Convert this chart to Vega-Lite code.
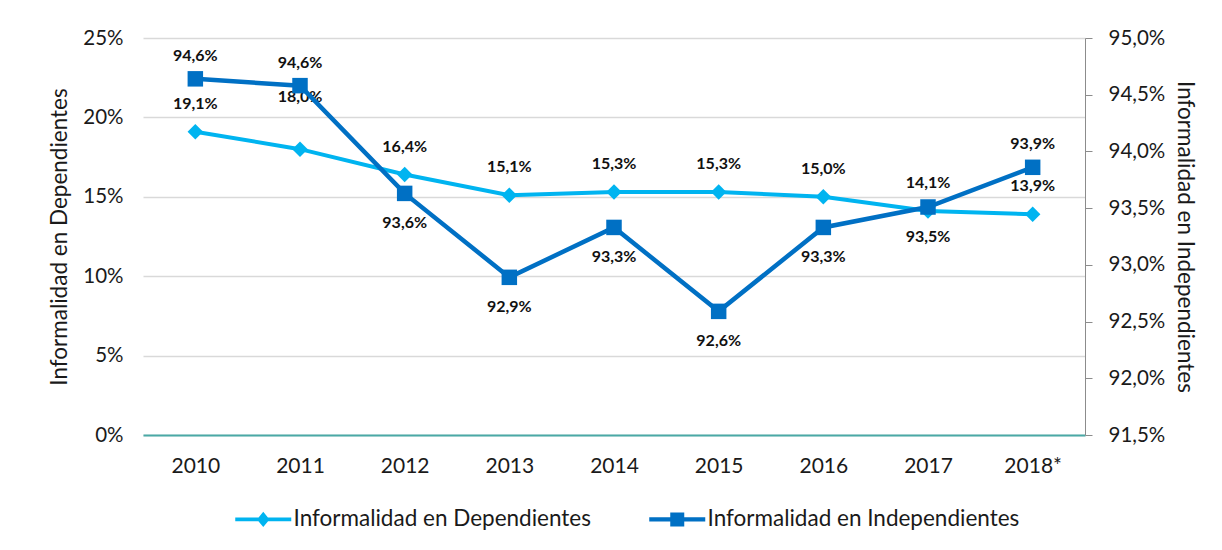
{
  "$schema": "https://vega.github.io/schema/vega-lite/v6.json",
  "autosize": {"type": "none"},
  "width": 942,
  "height": 397,
  "padding": {"left": 143, "top": 38, "right": 137, "bottom": 115},
  "background": "white",
  "config": {
    "locale": {"number": {"decimal": ",", "thousands": ".", "grouping": [3], "currency": ["", " €"]}},
    "view": {"stroke": null},
    "font": "Lato",
    "axis": {"labelFont": "Lato", "titleFont": "Lato", "labelColor": "#1a1a1a", "titleColor": "#1a1a1a", "titleFontWeight": "normal"}
  },
  "data": {
    "values": [
      {"year": "2010", "dep": 0.191, "ind": 0.9464},
      {"year": "2011", "dep": 0.180, "ind": 0.9458},
      {"year": "2012", "dep": 0.164, "ind": 0.9363},
      {"year": "2013", "dep": 0.151, "ind": 0.9289},
      {"year": "2014", "dep": 0.153, "ind": 0.9333},
      {"year": "2015", "dep": 0.153, "ind": 0.9259},
      {"year": "2016", "dep": 0.150, "ind": 0.9333},
      {"year": "2017", "dep": 0.141, "ind": 0.9351},
      {"year": "2018*", "dep": 0.139, "ind": 0.9386}
    ]
  },
  "encoding": {
    "x": {
      "field": "year", "type": "nominal", "sort": null,
      "scale": {"type": "point", "padding": 0.5},
      "axis": {"title": null, "labelAngle": 0, "labelFontSize": 21, "labelPadding": 20, "ticks": false, "domainColor": "#4aa9a6", "domainWidth": 2, "grid": false}
    }
  },
  "layer": [
    {
      "encoding": {
        "y": {
          "field": "dep", "type": "quantitative",
          "scale": {"domain": [0, 0.25]},
          "axis": {"title": "Informalidad en Dependientes", "titleFontSize": 22.5, "titlePadding": 11, "format": ".0%", "values": [0, 0.05, 0.1, 0.15, 0.2, 0.25], "labelFontSize": 20.5, "labelPadding": 20, "ticks": false, "domain": false, "grid": true, "gridColor": "#d9d9d9", "gridWidth": 1.5}
        }
      },
      "layer": [
        {
          "mark": {"type": "line", "strokeWidth": 4},
          "encoding": {
            "color": {
              "datum": "Informalidad en Dependientes",
              "scale": {"domain": ["Informalidad en Dependientes", "Informalidad en Independientes"], "range": ["#00b4f0", "#0070c4"]},
              "legend": {
                "orient": "none", "legendX": 109, "legendY": 470, "direction": "horizontal", "title": null,
                "symbolSize": 196, "labelOffset": 19, "columnPadding": 58, "labelFontSize": 22.5, "labelLimit": 600, "labelFont": "Lato", "labelColor": "#1a1a1a", "padding": 0,
                "encode": {
                  "symbols": {
                    "update": {
                      "shape": {"signal": "datum.value == 'Informalidad en Dependientes' ? 'M-4,-0.28L4,-0.28L4,0.28L-4,0.28Z M0,-1.1L0.9,0L0,1.1L-0.9,0Z' : 'M-4,-0.3L4,-0.3L4,0.3L-4,0.3Z M-1,-1L1,-1L1,1L-1,1Z'"},
                      "fill": {"signal": "datum.value == 'Informalidad en Dependientes' ? '#00b4f0' : '#0070c4'"},
                      "stroke": {"value": "transparent"},
                      "strokeWidth": {"value": 0},
                      "opacity": {"value": 1},
                      "fillOpacity": {"value": 1}
                    }
                  }
                }
              }
            }
          }
        },
        {
          "mark": {"type": "point", "shape": "diamond", "size": 240, "filled": true, "opacity": 1, "color": "#00b4f0"}
        },
        {
          "transform": [{"filter": "datum.year != '2011'"}],
          "mark": {"type": "text", "dy": -28, "fontSize": 16, "fontWeight": "bold", "font": "Lato", "color": "#111111", "baseline": "middle"},
          "encoding": {"text": {"field": "dep", "type": "quantitative", "format": ".1%"}}
        },
        {
          "transform": [{"filter": "datum.year == '2011'"}],
          "mark": {"type": "text", "dy": -52, "fontSize": 16, "fontWeight": "bold", "font": "Lato", "color": "#111111", "baseline": "middle"},
          "encoding": {"text": {"field": "dep", "type": "quantitative", "format": ".1%"}}
        }
      ]
    },
    {
      "encoding": {
        "y": {
          "field": "ind", "type": "quantitative",
          "scale": {"domain": [0.915, 0.95], "zero": false},
          "axis": {"orient": "right", "title": "Informalidad en Independientes", "titleAngle": 90, "titleFontSize": 22.5, "titlePadding": 8, "format": ".1%", "values": [0.915, 0.92, 0.925, 0.93, 0.935, 0.94, 0.945, 0.95], "labelFontSize": 20.5, "labelPadding": 16, "tickSize": 7, "tickColor": "#8c8c8c", "domainColor": "#8c8c8c", "grid": false}
        }
      },
      "layer": [
        {
          "mark": {"type": "line", "strokeWidth": 4.5},
          "encoding": {"color": {"datum": "Informalidad en Independientes"}}
        },
        {
          "mark": {"type": "point", "shape": "square", "size": 240, "filled": true, "opacity": 1, "color": "#0070c4"}
        },
        {
          "transform": [{"filter": "datum.year == '2010' || datum.year == '2011' || datum.year == '2018*'"}],
          "mark": {"type": "text", "dy": -23, "fontSize": 16, "fontWeight": "bold", "font": "Lato", "color": "#111111", "baseline": "middle"},
          "encoding": {"text": {"field": "ind", "type": "quantitative", "format": ".1%"}}
        },
        {
          "transform": [{"filter": "datum.year != '2010' && datum.year != '2011' && datum.year != '2018*'"}],
          "mark": {"type": "text", "dy": 30, "fontSize": 16, "fontWeight": "bold", "font": "Lato", "color": "#111111", "baseline": "middle"},
          "encoding": {"text": {"field": "ind", "type": "quantitative", "format": ".1%"}}
        }
      ]
    }
  ],
  "resolve": {"scale": {"y": "independent"}}
}
